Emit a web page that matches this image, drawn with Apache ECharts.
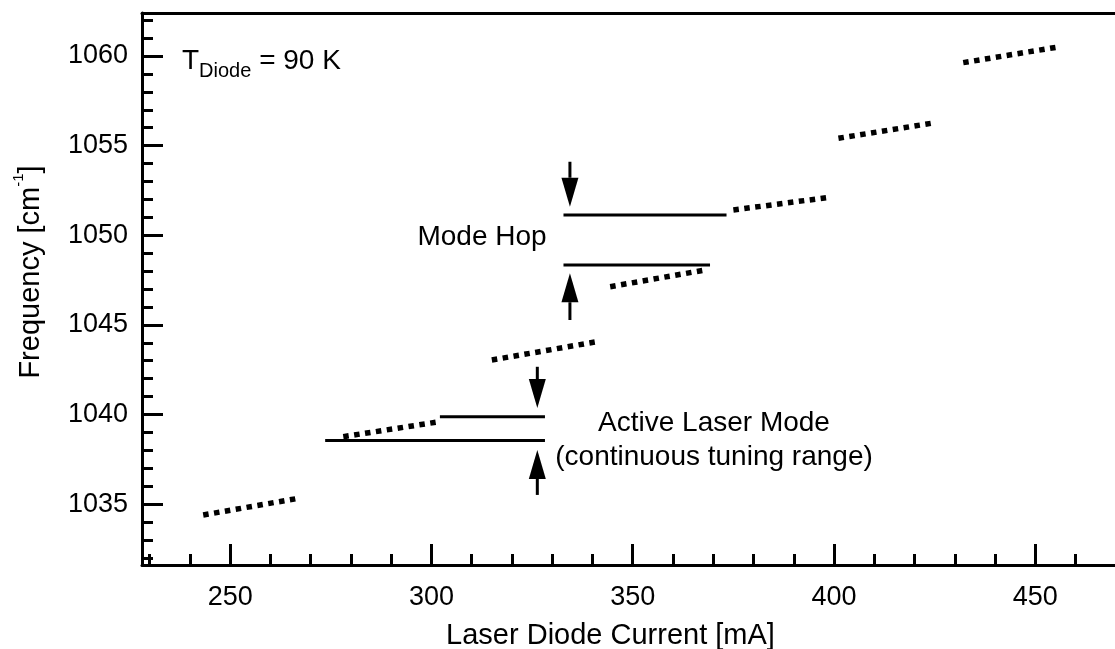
<!DOCTYPE html>
<html>
<head>
<meta charset="utf-8">
<script src="https://cdn.jsdelivr.net/npm/echarts@6/dist/echarts.min.js"></script>
<style>
html,body{margin:0;padding:0;background:#fff;}
#chart{width:1115px;height:649px;}
</style>
</head>
<body>
<div id="chart"></div>
<script>
// ---- axis ranges & ticks ----
const xMin = 228.1, xMax = 469.8;
const yMin = 1031.6, yMax = 1062.4;
const xMajorTicks = [250, 300, 350, 400, 450];
const xMinorTicks = [230, 240, 260, 270, 280, 290, 310, 320, 330, 340, 360, 370, 380, 390, 410, 420, 430, 440, 460];
const yMajorTicks = [1035, 1040, 1045, 1050, 1055, 1060];
const yMinorTicks = [1032, 1033, 1034, 1036, 1037, 1038, 1039, 1041, 1042, 1043, 1044, 1046, 1047, 1048, 1049, 1051, 1052, 1053, 1054, 1056, 1057, 1058, 1059, 1061, 1062];

// ---- dotted laser-mode segments (current mA, frequency cm^-1) ----
const modeStartX = [243.3, 278.1, 315.0, 344.4, 375.0, 401.1, 432.1];
const modeStartY = [1034.39, 1038.76, 1043.04, 1047.13, 1051.41, 1055.41, 1059.63];
const modeEndX   = [266.9, 302.1, 341.1, 368.0, 399.0, 425.1, 456.1];
const modeEndY   = [1035.32, 1039.60, 1044.06, 1048.06, 1052.12, 1056.28, 1060.52];

// ---- solid reference lines (annotation guides) ----
const guideStartX = [273.6, 302.1, 332.8, 332.8];
const guideEndX   = [328.2, 328.2, 373.3, 369.2];
const guideY      = [1038.54, 1039.87, 1051.13, 1048.34];

// ---- arrows: x, tail y, tip y ----
const arrowX    = [326.3, 326.3, 334.4, 334.4];
const arrowTail = [1042.66, 1035.51, 1054.10, 1045.27];
const arrowTip  = [1040.36, 1038.02, 1051.59, 1047.88];

const FONT = "'Liberation Sans', Arial, Helvetica, sans-serif";

const series = [];
for (let i = 0; i < modeStartX.length; i++) {
  series.push({
    type: 'line', silent: true, symbol: 'none', animation: false,
    data: [[modeStartX[i], modeStartY[i]], [modeEndX[i], modeEndY[i]]],
    lineStyle: { color: '#000', width: 5.5, type: [5.5, 5.5], cap: 'butt' }
  });
}
for (let i = 0; i < guideStartX.length; i++) {
  series.push({
    type: 'line', silent: true, symbol: 'none', animation: false,
    data: [[guideStartX[i], guideY[i]], [guideEndX[i], guideY[i]]],
    lineStyle: { color: '#000', width: 3, type: 'solid', cap: 'butt' }
  });
}
series.push({
  type: 'custom', silent: true, animation: false, clip: false,
  data: arrowX.map((x, i) => [x, arrowTail[i], arrowTip[i]]),
  encode: { x: 0, y: [1, 2] },
  renderItem: function (params, api) {
    const pTail = api.coord([api.value(0), api.value(1)]);
    const pTip = api.coord([api.value(0), api.value(2)]);
    const dir = pTip[1] > pTail[1] ? 1 : -1;
    const L = 29, W = 17;
    const baseY = pTip[1] - dir * L;
    const cx = pTip[0];
    return {
      type: 'group',
      children: [
        { type: 'line', shape: { x1: cx, y1: pTail[1], x2: cx, y2: baseY }, style: { stroke: '#000', lineWidth: 3 } },
        { type: 'polygon', shape: { points: [[cx - W / 2, baseY], [cx + W / 2, baseY], [cx, pTip[1]]] }, style: { fill: '#000' } }
      ]
    };
  }
});

const plain = v => String(v);

const chart = echarts.init(document.getElementById('chart'));
chart.setOption({
  animation: false,
  backgroundColor: '#fff',
  grid: { left: 142, right: 0, top: 13, bottom: 84, containLabel: false, outerBoundsMode: 'none' },
  xAxis: [
    {
      type: 'value', min: xMin, max: xMax, position: 'bottom',
      name: 'Laser Diode Current [mA]', nameLocation: 'middle', nameGap: 56,
      nameTextStyle: { fontFamily: FONT, fontSize: 29, color: '#000', padding: [0, 36, 0, 0] },
      axisLine: { show: true, lineStyle: { color: '#000', width: 3 } },
      axisTick: { show: true, inside: true, length: 21, lineStyle: { color: '#000', width: 3 }, customValues: xMajorTicks },
      axisLabel: { show: true, margin: 19, fontFamily: FONT, fontSize: 27, color: '#000', customValues: xMajorTicks, formatter: plain },
      splitLine: { show: false }
    },
    {
      type: 'value', min: xMin, max: xMax, position: 'bottom', offset: 0,
      axisLine: { show: false },
      axisTick: { show: true, inside: true, length: 11, lineStyle: { color: '#000', width: 3 }, customValues: xMinorTicks },
      axisLabel: { show: false },
      splitLine: { show: false }
    },
    {
      type: 'value', min: xMin, max: xMax, position: 'top', offset: 0,
      axisLine: { show: true, lineStyle: { color: '#000', width: 3 } },
      axisTick: { show: false }, axisLabel: { show: false }, splitLine: { show: false }
    }
  ],
  yAxis: [
    {
      type: 'value', min: yMin, max: yMax, position: 'left',
      name: 'Frequency [cm{sup|-1}]', nameLocation: 'middle', nameGap: 92, nameRotate: 90,
      nameTextStyle: {
        fontFamily: FONT, fontSize: 29, color: '#000', padding: [0, 0, 0, 34],
        rich: { sup: { fontFamily: FONT, fontSize: 15, color: '#000', padding: [0, 0, 24, 0] } }
      },
      axisLine: { show: true, lineStyle: { color: '#000', width: 3 } },
      axisTick: { show: true, inside: true, length: 21, lineStyle: { color: '#000', width: 3 }, customValues: yMajorTicks },
      axisLabel: { show: true, margin: 14, fontFamily: FONT, fontSize: 27, color: '#000', customValues: yMajorTicks, formatter: plain, padding: [8, 0, 0, 0] },
      splitLine: { show: false }
    },
    {
      type: 'value', min: yMin, max: yMax, position: 'left', offset: 0,
      axisLine: { show: false },
      axisTick: { show: true, inside: true, length: 11, lineStyle: { color: '#000', width: 3 }, customValues: yMinorTicks },
      axisLabel: { show: false },
      splitLine: { show: false }
    }
  ],
  graphic: [
    {
      type: 'text', x: 182, y: 61, silent: true,
      style: {
        text: '{m|T}{s|Diode}{m| = 90 K}',
        fill: '#000', align: 'left', verticalAlign: 'middle',
        rich: {
          m: { fontFamily: FONT, fontSize: 28, color: '#000', verticalAlign: 'middle' },
          s: { fontFamily: FONT, fontSize: 20, color: '#000', verticalAlign: 'middle', padding: [21, 0, 0, 0] }
        }
      }
    },
    {
      type: 'text', silent: true, x: 482, y: 237,
      style: { text: 'Mode Hop', fontFamily: FONT, fontSize: 28, fill: '#000', align: 'center', verticalAlign: 'middle' }
    },
    {
      type: 'text', silent: true, x: 714, y: 440,
      style: { text: 'Active Laser Mode\n(continuous tuning range)', fontFamily: FONT, fontSize: 28, lineHeight: 34, fill: '#000', align: 'center', verticalAlign: 'middle' }
    }
  ],
  series: series
});
</script>
</body>
</html>
